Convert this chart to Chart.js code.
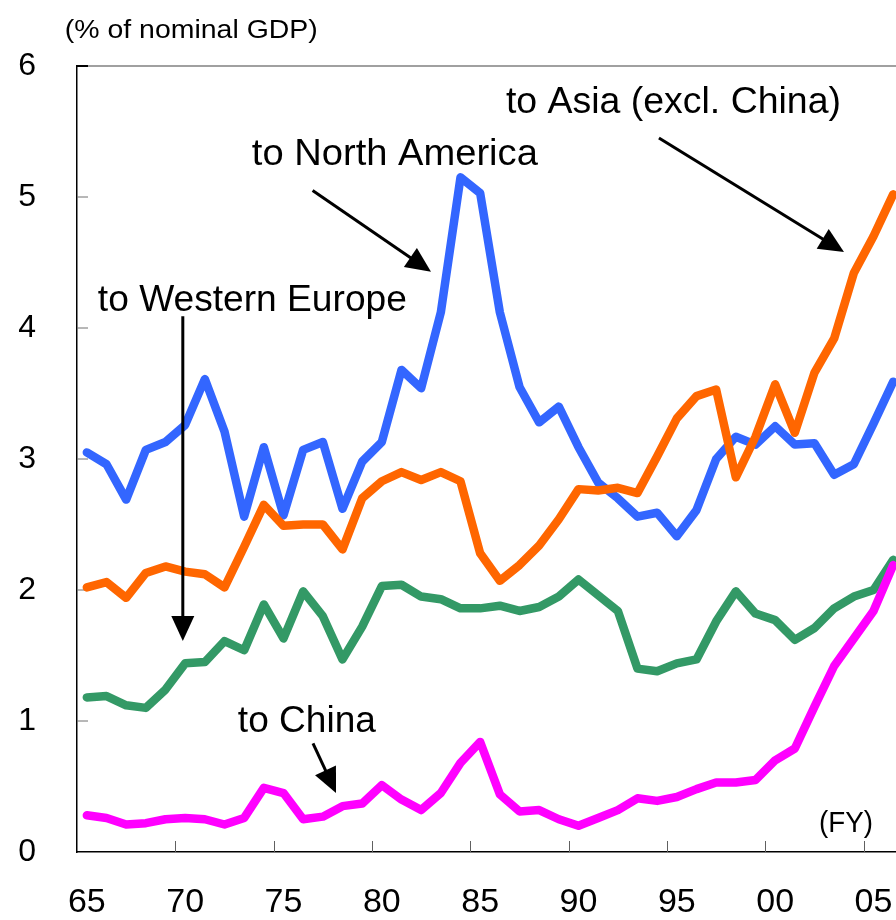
<!DOCTYPE html>
<html>
<head>
<meta charset="utf-8">
<script src="https://cdn.jsdelivr.net/npm/chart.js@4/dist/chart.umd.min.js"></script>
<style>
  html, body { margin: 0; padding: 0; overflow: hidden; background: #fff; }
  #wrap { position: absolute; left: 0; top: 0; width: 903px; height: 920px; }
</style>
</head>
<body>
<div id="wrap"><canvas id="c"></canvas></div>
<script>
// ---- data (FY, % of nominal GDP) ----
const years = [1965,1966,1967,1968,1969,1970,1971,1972,1973,1974,1975,1976,1977,1978,1979,
               1980,1981,1982,1983,1984,1985,1986,1987,1988,1989,1990,1991,1992,1993,1994,
               1995,1996,1997,1998,1999,2000,2001,2002,2003,2004,2005,2006];
const toNorthAmerica = [3.05,2.96,2.69,3.07,3.13,3.26,3.61,3.21,2.56,3.09,2.57,3.07,3.13,2.62,2.98,
                        3.13,3.68,3.54,4.12,5.15,5.03,4.12,3.55,3.28,3.40,3.09,2.82,2.70,2.56,2.59,
                        2.41,2.61,3.00,3.17,3.11,3.25,3.11,3.12,2.88,2.96,3.27,3.59];
const toAsiaExChina = [2.02,2.06,1.94,2.13,2.18,2.14,2.12,2.02,2.33,2.65,2.49,2.50,2.50,2.31,2.70,
                       2.83,2.90,2.84,2.90,2.83,2.28,2.07,2.19,2.34,2.54,2.77,2.76,2.78,2.74,3.02,
                       3.31,3.48,3.53,2.86,3.17,3.57,3.20,3.66,3.92,4.42,4.70,5.02];
const toWesternEurope = [1.18,1.19,1.12,1.10,1.24,1.44,1.45,1.61,1.54,1.89,1.63,1.99,1.80,1.47,1.72,
                         2.03,2.04,1.95,1.93,1.86,1.86,1.88,1.84,1.87,1.95,2.08,1.96,1.84,1.40,1.38,
                         1.44,1.47,1.76,1.99,1.82,1.77,1.62,1.71,1.86,1.95,2.00,2.23];
const toChina = [0.28,0.26,0.21,0.22,0.25,0.26,0.25,0.21,0.26,0.49,0.45,0.25,0.27,0.35,0.37,
                 0.51,0.40,0.32,0.45,0.68,0.84,0.44,0.31,0.32,0.25,0.20,0.26,0.32,0.41,0.39,
                 0.42,0.48,0.53,0.53,0.55,0.70,0.79,1.11,1.42,1.63,1.84,2.19];
const xTickYears  = [1965,1970,1975,1980,1985,1990,1995,2000,2005];
const xTickLabels = ['65','70','75','80','85','90','95','00','05'];
const yTickValues = [0,1,2,3,4,5,6];

// annotations anchored in data units (year, value)
const textNotes = [
  { text: '(% of nominal GDP)',    x: 1963.88, y: 6.214, size: 25, width: 253 },
  { text: 'to North America',      x: 1973.39, y: 5.245, size: 36, width: 286 },
  { text: 'to Asia (excl. China)', x: 1986.31, y: 5.643, size: 36, width: 335 },
  { text: 'to Western Europe',     x: 1965.56, y: 4.132, size: 36, width: 309 },
  { text: 'to China',              x: 1972.68, y: 0.918, size: 36, width: 138 },
  { text: '(FY)',                  x: 2002.23, y: 0.155, size: 30, width: 54 }
];
const arrowNotes = [
  { from: [1976.48, 5.05], to: [1982.50, 4.43] },
  { from: [1994.09, 5.45], to: [2003.50, 4.58] },
  { from: [1969.88, 4.09], to: [1969.88, 1.61] },
  { from: [1976.50, 0.83], to: [1977.67, 0.45] }
];

const FONT = '"Liberation Sans", Arial, sans-serif';
const pts = arr => years.map((yr, i) => ({ x: yr, y: arr[i] }));

const decor = {
  id: 'decor',
  beforeDatasetsDraw(chart) {
    const { ctx, chartArea: a, scales: { x, y } } = chart;
    ctx.save();
    // top frame line
    ctx.strokeStyle = '#808080';
    ctx.lineWidth = 1.5;
    ctx.beginPath(); ctx.moveTo(a.left, a.top); ctx.lineTo(a.right, a.top); ctx.stroke();
    // inward y ticks
    yTickValues.forEach(v => {
      if (v === 0) return;
      const py = y.getPixelForValue(v);
      ctx.strokeStyle = v === 6 ? '#000' : '#707070';
      ctx.lineWidth = v === 6 ? 2 : 1;
      ctx.beginPath(); ctx.moveTo(a.left, py); ctx.lineTo(a.left + 11, py); ctx.stroke();
    });
    // inward x ticks between categories
    ctx.strokeStyle = '#606060';
    ctx.lineWidth = 1;
    xTickYears.forEach(v => {
      const px = Math.round(x.getPixelForValue(v - 0.5)) + 0.5;
      if (px <= a.left + 1) return;
      ctx.beginPath(); ctx.moveTo(px, a.bottom); ctx.lineTo(px, a.bottom - 11); ctx.stroke();
    });
    ctx.restore();
  },
  afterDraw(chart) {
    const { ctx, scales: { x, y } } = chart;
    ctx.save();
    ctx.fillStyle = '#000';
    ctx.strokeStyle = '#000';
    // arrows
    arrowNotes.forEach(ar => {
      const x1 = x.getPixelForValue(ar.from[0]), y1 = y.getPixelForValue(ar.from[1]);
      const x2 = x.getPixelForValue(ar.to[0]),   y2 = y.getPixelForValue(ar.to[1]);
      const ang = Math.atan2(y2 - y1, x2 - x1);
      const L = 25, W = 11.5;
      const bx = x2 - L * Math.cos(ang), by = y2 - L * Math.sin(ang);
      ctx.lineWidth = 3;
      ctx.beginPath(); ctx.moveTo(x1, y1); ctx.lineTo(bx + 2 * Math.cos(ang), by + 2 * Math.sin(ang)); ctx.stroke();
      ctx.beginPath();
      ctx.moveTo(x2, y2);
      ctx.lineTo(bx + W * Math.sin(ang), by - W * Math.cos(ang));
      ctx.lineTo(bx - W * Math.sin(ang), by + W * Math.cos(ang));
      ctx.closePath(); ctx.fill();
    });
    // texts
    ctx.textAlign = 'left';
    ctx.textBaseline = 'alphabetic';
    textNotes.forEach(t => {
      ctx.font = t.size + 'px ' + FONT;
      const w = ctx.measureText(t.text).width;
      ctx.save();
      ctx.translate(x.getPixelForValue(t.x), y.getPixelForValue(t.y));
      ctx.scale(t.width / w, 1);
      ctx.fillText(t.text, 0, 0);
      ctx.restore();
    });
    ctx.restore();
  }
};

const lineDs = (label, arr, color) => ({
  label, data: pts(arr), borderColor: color, backgroundColor: color,
  borderWidth: 8.5, pointRadius: 0, tension: 0,
  borderJoinStyle: 'round', borderCapStyle: 'round', fill: false
});

new Chart(document.getElementById('c'), {
  type: 'line',
  data: {
    datasets: [
      lineDs('to China', toChina, '#FF00FF'),
      lineDs('to Asia (excl. China)', toAsiaExChina, '#FF6600'),
      lineDs('to Western Europe', toWesternEurope, '#339966'),
      lineDs('to North America', toNorthAmerica, '#3366FF')
    ]
  },
  options: {
    responsive: true,
    maintainAspectRatio: false,
    animation: false,
    events: [],
    layout: { padding: { top: 66, left: 0, right: 0, bottom: 0 } },
    plugins: { legend: { display: false }, tooltip: { enabled: false } },
    scales: {
      x: {
        type: 'linear',
        min: 1964.5,
        max: 2006.5,
        afterBuildTicks: s => { s.ticks = xTickYears.map(v => ({ value: v })); },
        afterFit: s => { s.height = 68; s.paddingLeft = 0; s.paddingRight = 0; },
        grid: { display: false, drawTicks: false },
        border: { display: true, color: '#000', width: 1.5 },
        ticks: {
          autoSkip: false, maxRotation: 0, padding: 30, color: '#000',
          font: { family: FONT, size: 34 },
          callback: v => xTickLabels[xTickYears.indexOf(v)]
        }
      },
      y: {
        min: 0,
        max: 6,
        afterBuildTicks: s => { s.ticks = yTickValues.map(v => ({ value: v })); },
        afterFit: s => { s.width = 77; s.paddingTop = 0; s.paddingBottom = 0; },
        grid: { display: false, drawTicks: false },
        border: { display: true, color: '#000', width: 1.5 },
        ticks: {
          padding: 41, color: '#000',
          font: { family: FONT, size: 32 },
          callback: v => String(v)
        }
      }
    }
  },
  plugins: [decor]
});
</script>
</body>
</html>
